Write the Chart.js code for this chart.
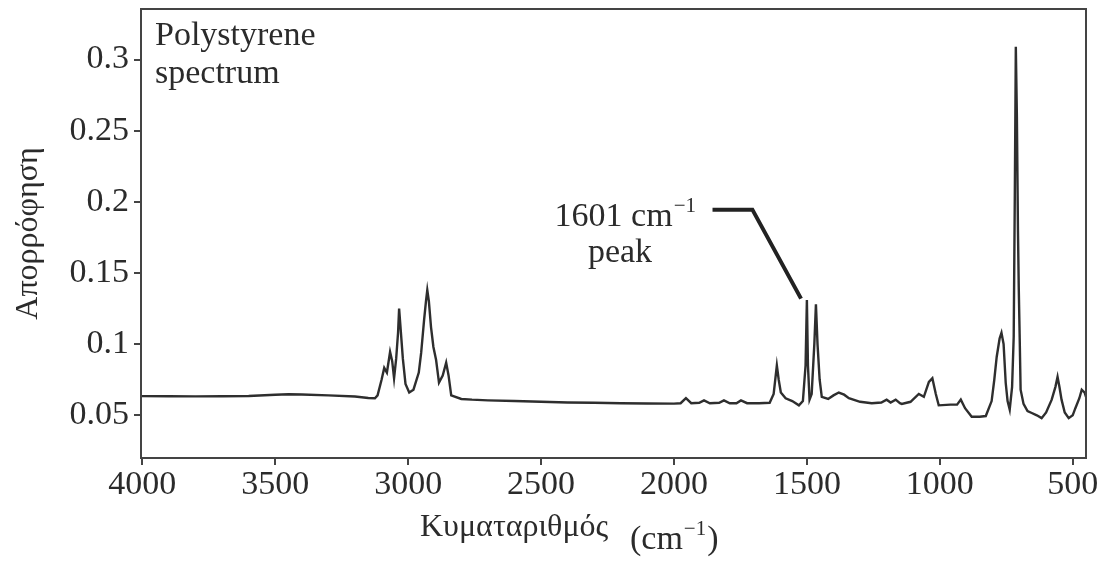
<!DOCTYPE html>
<html>
<head>
<meta charset="utf-8">
<script src="https://cdn.jsdelivr.net/npm/chart.js@4/dist/chart.umd.min.js"></script>
<style>
    html, body { margin: 0; padding: 0; background: #fff; }
    #wrap { width: 1104px; height: 561px; }
</style>
</head>
<body>
<div id="wrap"><canvas id="irChart" width="1104" height="561"></canvas></div>
<script>
// Spectrum data
const wavenumbers = [
    4005, 3900, 3800, 3700, 3600, 3500, 3450, 3400, 3300, 3200, 3150, 3125, 3115,
    3100, 3090, 3080, 3068, 3060, 3053, 3045, 3038, 3034, 3028, 3020, 3010, 2996,
    2980, 2960, 2951, 2940, 2933, 2928, 2922, 2914, 2905, 2895, 2884, 2870, 2857,
    2848, 2838, 2800, 2760, 2700, 2600, 2500, 2400, 2300, 2200, 2100, 2000,
    1975, 1955, 1935, 1905, 1887, 1865, 1830, 1812, 1790, 1765, 1748, 1725, 1680,
    1640, 1625, 1613, 1606, 1598, 1580, 1555, 1530, 1515, 1505, 1500, 1496, 1490,
    1482, 1472, 1466, 1460, 1452, 1444, 1420, 1400, 1380, 1360, 1342, 1300, 1256,
    1220, 1200, 1185, 1166, 1150, 1143, 1110, 1079, 1060, 1041, 1028, 1015, 1004,
    960, 935, 921, 905, 880, 850, 827, 805, 795, 786, 775, 768, 760, 752, 745, 737,
    728, 722, 718, 714, 710, 706, 703, 699, 696, 685, 670, 654, 635, 617, 600, 579,
    565, 557, 550, 542, 530, 515, 500, 490, 475, 466, 455, 450
];
const absorbance = [
    0.0635, 0.0634, 0.0633, 0.0634, 0.0636, 0.0644, 0.0648, 0.0646, 0.0640, 0.0632, 0.0622, 0.0620, 0.0640,
    0.075, 0.0833, 0.080, 0.0945, 0.088, 0.076, 0.090, 0.108, 0.125, 0.110, 0.090, 0.072, 0.066,
    0.068, 0.080, 0.094, 0.117, 0.130, 0.138, 0.130, 0.112, 0.098, 0.089, 0.073, 0.078, 0.087,
    0.078, 0.064, 0.0615, 0.061, 0.0605, 0.060, 0.0595, 0.059, 0.0588, 0.0585, 0.0583, 0.0582,
    0.0585, 0.062, 0.0585, 0.0588, 0.0605, 0.0585, 0.0588, 0.0605, 0.0585, 0.0585, 0.0605, 0.0585, 0.0585,
    0.0588, 0.065, 0.085, 0.075, 0.066, 0.062, 0.060, 0.057, 0.060, 0.085, 0.131, 0.085, 0.061,
    0.065, 0.100, 0.128, 0.100, 0.075, 0.063, 0.0615, 0.064, 0.066, 0.0645, 0.062, 0.0595, 0.0585,
    0.059, 0.061, 0.059, 0.061, 0.0585, 0.058, 0.0595, 0.065, 0.063, 0.0735, 0.076, 0.065, 0.057,
    0.0575, 0.0575, 0.061, 0.055, 0.049, 0.049, 0.0495, 0.060, 0.075, 0.091, 0.104, 0.108, 0.100, 0.0727, 0.060, 0.054,
    0.070, 0.105, 0.200, 0.309, 0.260, 0.180, 0.140, 0.100, 0.068, 0.058, 0.053, 0.0516, 0.050, 0.048, 0.052, 0.061,
    0.070, 0.077, 0.070, 0.061, 0.052, 0.048, 0.050, 0.055, 0.062, 0.068, 0.066, 0.063
];

const xTicks = [4000, 3500, 3000, 2500, 2000, 1500, 1000, 500];
const yTicks = [0.05, 0.1, 0.15, 0.2, 0.25, 0.3];
const yTickLabels = ['0.05', '0.1', '0.15', '0.2', '0.25', '0.3'];

const serif = "'Liberation Serif', 'DejaVu Serif', serif";
const inkColor = '#2b2b2b';

// text with a raised superscript part, e.g. cm^-1
function drawSup(ctx, x, y, base, sup, tail, size) {
    ctx.font = size + 'px ' + serif;
    ctx.fillText(base, x, y);
    let w = ctx.measureText(base).width;
    ctx.font = Math.round(size * 0.62) + 'px ' + serif;
    ctx.fillText(sup, x + w + 1, y - size * 0.42);
    w += ctx.measureText(sup).width + 2;
    if (tail) {
        ctx.font = size + 'px ' + serif;
        ctx.fillText(tail, x + w, y);
        w += ctx.measureText(tail).width;
    }
    return w;
}

const framePlugin = {
    id: 'frame',
    afterDraw(chart) {
        const ctx = chart.ctx;
        const a = chart.chartArea;
        const xs = chart.scales.x;
        const ys = chart.scales.y;
        ctx.save();
        ctx.strokeStyle = '#444';
        ctx.lineWidth = 2;
        ctx.strokeRect(a.left, a.top, a.right - a.left, a.bottom - a.top);

        ctx.fillStyle = inkColor;
        ctx.textBaseline = 'alphabetic';
        ctx.textAlign = 'left';

        // label in the top-left corner
        ctx.font = '34px ' + serif;
        ctx.fillText('Polystyrene', a.left + 14, 45);
        ctx.fillText('spectrum', a.left + 14, 83);

        // peak annotation
        const txt = '1601 cm';
        ctx.font = '34px ' + serif;
        const tw = ctx.measureText(txt).width;
        ctx.font = '21px ' + serif;
        const sw = ctx.measureText('\u22121').width;
        drawSup(ctx, 698 - tw - sw - 3, 226, txt, '\u22121', '', 34);
        ctx.font = '34px ' + serif;
        ctx.textAlign = 'center';
        ctx.fillText('peak', 620, 262);

        // leader line
        ctx.strokeStyle = '#222';
        ctx.lineWidth = 4;
        ctx.beginPath();
        ctx.moveTo(xs.getPixelForValue(1855), ys.getPixelForValue(0.1945));
        ctx.lineTo(xs.getPixelForValue(1705), ys.getPixelForValue(0.1945));
        ctx.lineTo(xs.getPixelForValue(1522), ys.getPixelForValue(0.132));
        ctx.stroke();

        // x axis title
        ctx.textAlign = 'left';
        ctx.font = '32px ' + serif;
        ctx.fillText('Κυματαριθμός', 420, 536);
        drawSup(ctx, 630, 549, '(cm', '\u22121', ')', 34);
        ctx.restore();
    }
};

new Chart(document.getElementById('irChart'), {
    type: 'line',
    data: {
        datasets: [{
            data: wavenumbers.map((w, i) => ({ x: w, y: absorbance[i] })),
            borderColor: '#2e2e2e',
            borderWidth: 2.4,
            pointRadius: 0,
            tension: 0,
            fill: false
        }]
    },
    options: {
        responsive: false,
        animation: false,
        devicePixelRatio: 1,
        layout: {
            padding: { left: 0, right: 18, top: 9, bottom: 0 }
        },
        plugins: {
            legend: { display: false },
            tooltip: { enabled: false }
        },
        scales: {
            x: {
                type: 'linear',
                reverse: true,
                min: 450,
                max: 4005,
                afterBuildTicks: function (scale) {
                    scale.ticks = xTicks.map(v => ({ value: v }));
                },
                afterFit: function (scale) {
                    scale.height = 103;
                },
                grid: {
                    drawOnChartArea: false,
                    drawTicks: true,
                    tickLength: 7,
                    color: '#444',
                    lineWidth: 2
                },
                border: { display: true, color: '#444', width: 2 },
                ticks: {
                    autoSkip: false,
                    maxRotation: 0,
                    padding: 0,
                    color: inkColor,
                    font: { size: 34, family: serif },
                    callback: function (value) {
                        return String(value);
                    }
                }
            },
            y: {
                min: 0.02,
                max: 0.3355,
                afterBuildTicks: function (scale) {
                    scale.ticks = yTicks.map(v => ({ value: v }));
                },
                afterFit: function (scale) {
                    scale.width = 141;
                    scale.paddingTop = 0;
                    scale.paddingBottom = 0;
                },
                grid: {
                    drawOnChartArea: false,
                    drawTicks: true,
                    tickLength: 7,
                    color: '#444',
                    lineWidth: 2
                },
                border: { display: true, color: '#444', width: 2 },
                title: {
                    display: true,
                    text: 'Απορρόφηση',
                    color: inkColor,
                    font: { size: 32, family: serif },
                    padding: { top: 9, bottom: 0 }
                },
                ticks: {
                    padding: 5,
                    color: inkColor,
                    font: { size: 34, family: serif },
                    callback: function (value, index) {
                        return yTickLabels[index];
                    }
                }
            }
        }
    },
    plugins: [framePlugin]
});
</script>
</body>
</html>
